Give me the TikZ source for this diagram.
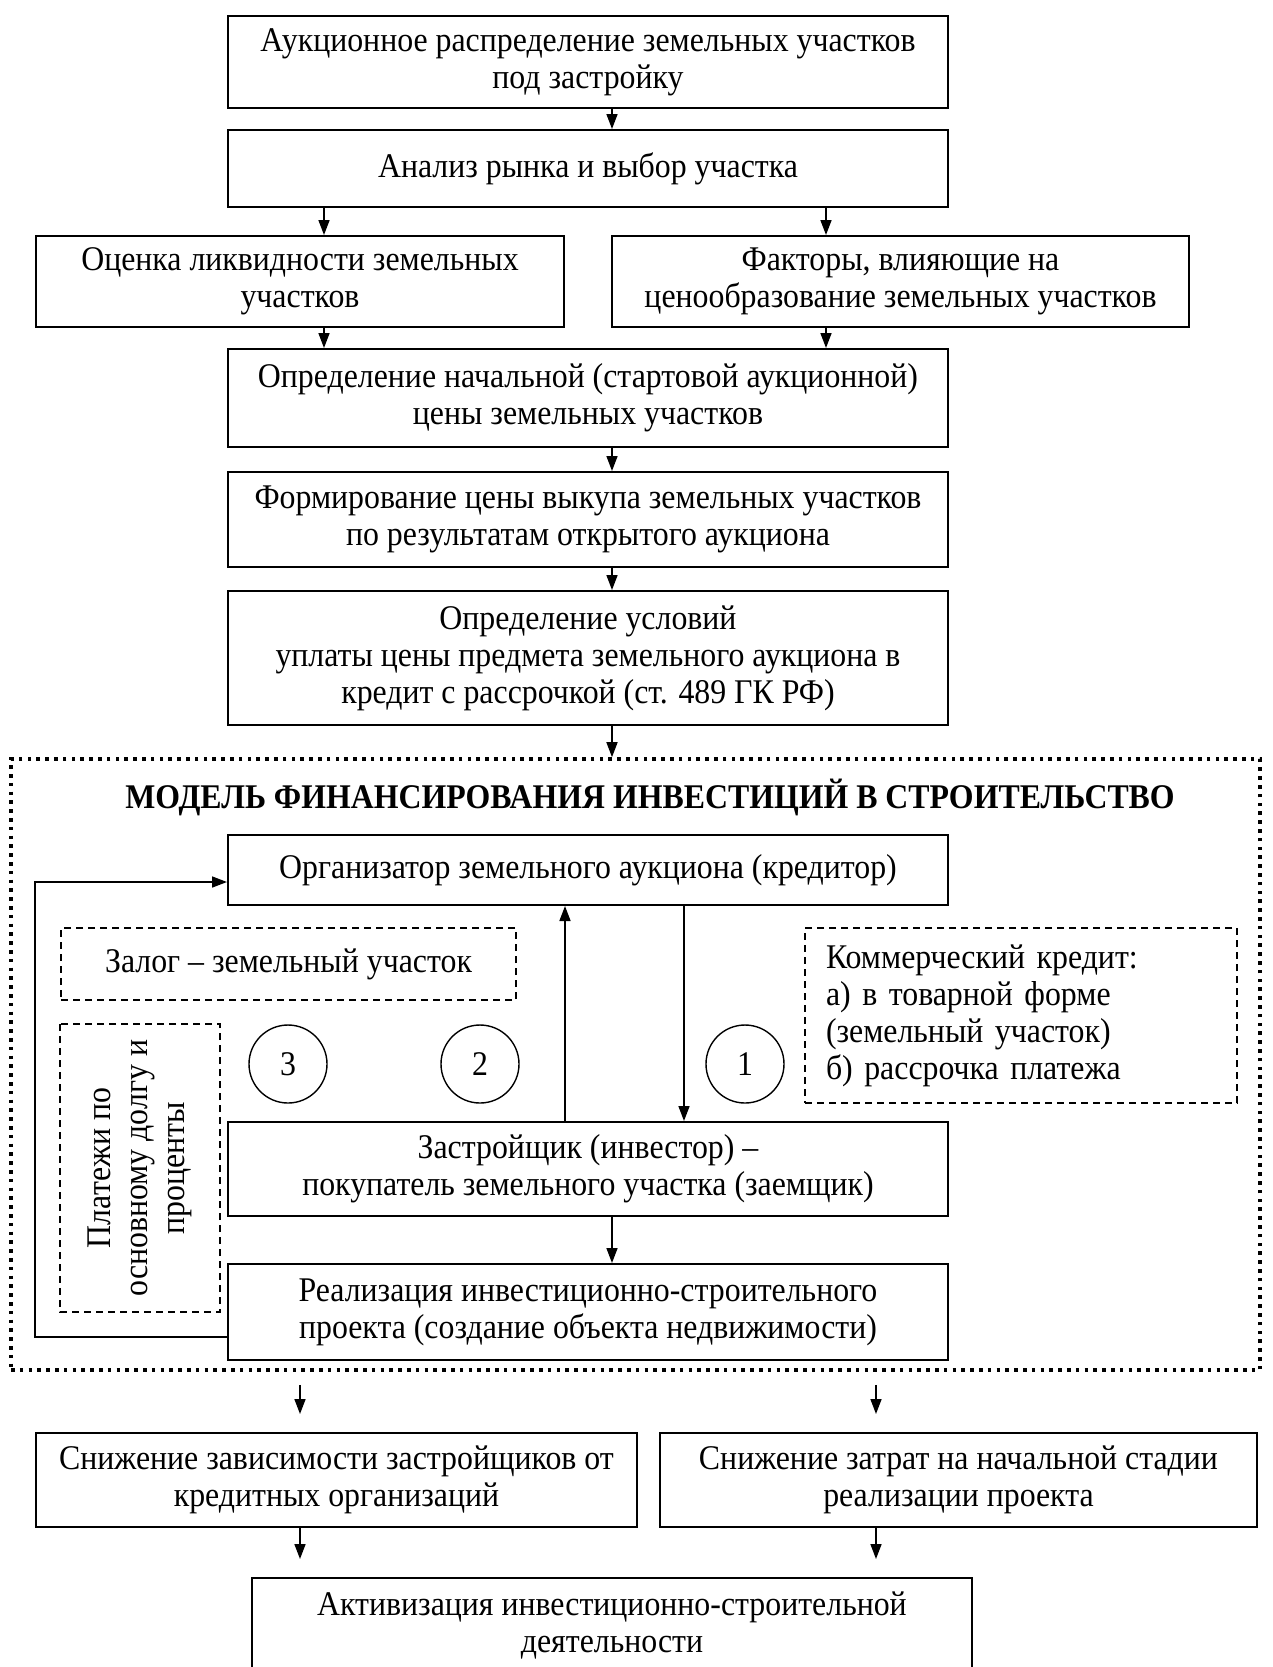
\documentclass[tikz,border=0pt]{standalone}
\usepackage{fontspec}
\setmainfont{Liberation Serif}[FakeStretch=0.92]
\usetikzlibrary{arrows.meta, positioning, shapes.geometric}

\tikzset{
  blk/.style={draw, line width=1pt, align=center, inner sep=2pt},
  dbox/.style={draw, line width=0.8pt, dash pattern=on 3.5pt off 2.5pt, align=center, inner sep=2pt},
  num/.style={draw, circle, line width=0.7pt, minimum size=39pt, inner sep=0pt},
  arr/.style={line width=0.8pt, -{Triangle[length=7.5pt, width=5.5pt]}},
}

\begin{document}
\begin{tikzpicture}[x=0.5pt, y=-0.5pt, font=\fontsize{17.3}{18.5}\selectfont]
\useasboundingbox (0,0) rectangle (1273,1667);

% arrow columns
\coordinate (mx) at (612,0);
\coordinate (lx) at (324,0);
\coordinate (rx) at (826,0);
\coordinate (ux) at (565,0);
\coordinate (dx) at (684,0);
\coordinate (blx) at (300,0);
\coordinate (brx) at (876,0);

% upper chain
\node[blk, minimum width=360pt, minimum height=46pt] (auct) at (588,62) {Аукционное распределение земельных участков\\под застройку};
\node[blk, minimum width=360pt, minimum height=38.5pt] (anal) at (588,168.5) {Анализ рынка и выбор участка};
\node[blk, minimum width=264pt, minimum height=45.5pt] (liq) at (300,281.5) {Оценка ликвидности земельных\\участков};
\node[blk, minimum width=288.5pt, minimum height=45.5pt] (fact) at (900.5,281.5) {Факторы, влияющие на\\ценообразование земельных участков};
\node[blk, minimum width=360pt, minimum height=49pt] (start) at (588,398) {Определение начальной (стартовой аукционной)\\цены земельных участков};
\node[blk, minimum width=360pt, minimum height=47.5pt] (buy) at (588,519.5) {Формирование цены выкупа земельных участков\\по результатам открытого аукциона};
\node[blk, minimum width=360pt, minimum height=67pt] (cond) at (588,658) {Определение условий\\уплаты цены предмета земельного аукциона в\\кредит с рассрочкой (ст. 489 ГК РФ)};

% model frame
\node[draw, line width=1.8pt, dash pattern=on 1.8pt off 2.6pt, minimum width=624.5pt, minimum height=305.5pt, inner sep=0pt] (frame) at (635.5,1064.5) {};
\node[font=\fontsize{17.3}{18.5}\selectfont\bfseries] (title) at (650,797) {МОДЕЛЬ ФИНАНСИРОВАНИЯ ИНВЕСТИЦИЙ В СТРОИТЕЛЬСТВО};

\node[blk, minimum width=360pt, minimum height=35pt] (org) at (588,870) {Организатор земельного аукциона (кредитор)};
\node[dbox, minimum width=227.5pt, minimum height=36pt] (pledge) at (288.5,964) {Залог – земельный участок};
\node[dbox, minimum width=216pt, minimum height=87.5pt, text width=195pt, align=left, inner xsep=10.5pt] (credit) at (1021,1015.5) {Коммерческий кредит:\\а) в товарной форме\\(земельный участок)\\б) рассрочка платежа};
\node[dbox, rotate=90, minimum width=144pt, minimum height=80pt] (pay) at (140,1168) {Платежи по\\основному долгу и\\проценты};
\node[num] (n3) at (288,1064) {3};
\node[num] (n2) at (480,1064) {2};
\node[num] (n1) at (745,1064) {1};
\node[blk, minimum width=360pt, minimum height=47pt] (dev) at (588,1169) {Застройщик (инвестор) –\\покупатель земельного участка (заемщик)};
\node[blk, minimum width=360pt, minimum height=48pt] (proj) at (588,1312) {Реализация инвестиционно-строительного\\проекта (создание объекта недвижимости)};

% results
\node[blk, minimum width=300.5pt, minimum height=47pt] (dep) at (336.5,1480) {Снижение зависимости застройщиков от\\кредитных организаций};
\node[blk, minimum width=298.5pt, minimum height=47pt] (cost) at (958.5,1480) {Снижение затрат на начальной стадии\\реализации проекта};
\node[blk, minimum width=360pt, minimum height=47pt] (act) at (612,1625) {Активизация инвестиционно-строительной\\деятельности};

% connectors
\draw[arr] (auct.south -| mx) -- (anal.north -| mx);
\draw[arr] (anal.south -| lx) -- (liq.north -| lx);
\draw[arr] (anal.south -| rx) -- (fact.north -| rx);
\draw[arr] (liq.south -| lx) -- (start.north -| lx);
\draw[arr] (fact.south -| rx) -- (start.north -| rx);
\draw[arr] (start.south -| mx) -- (buy.north -| mx);
\draw[arr] (buy.south -| mx) -- (cond.north -| mx);
\draw[arr] (cond.south -| mx) -- (frame.north -| mx);
\draw[arr] (dev.north -| ux) -- (org.south -| ux);
\draw[arr] (org.south -| dx) -- (dev.north -| dx);
\draw[arr] (dev.south -| mx) -- (proj.north -| mx);
\draw[arr] ([yshift=-12.5pt]proj.west) -- ++(-96pt,0) |- ([yshift=-6pt]org.west);
\draw[arr, shorten <=6.5pt, shorten >=9pt] (frame.south -| blx) -- (dep.north -| blx);
\draw[arr, shorten <=6.5pt, shorten >=9pt] (frame.south -| brx) -- (cost.north -| brx);
\draw[arr, shorten >=9pt] (dep.south -| blx) -- (act.north -| blx);
\draw[arr, shorten >=9pt] (cost.south -| brx) -- (act.north -| brx);
\end{tikzpicture}
\end{document}
